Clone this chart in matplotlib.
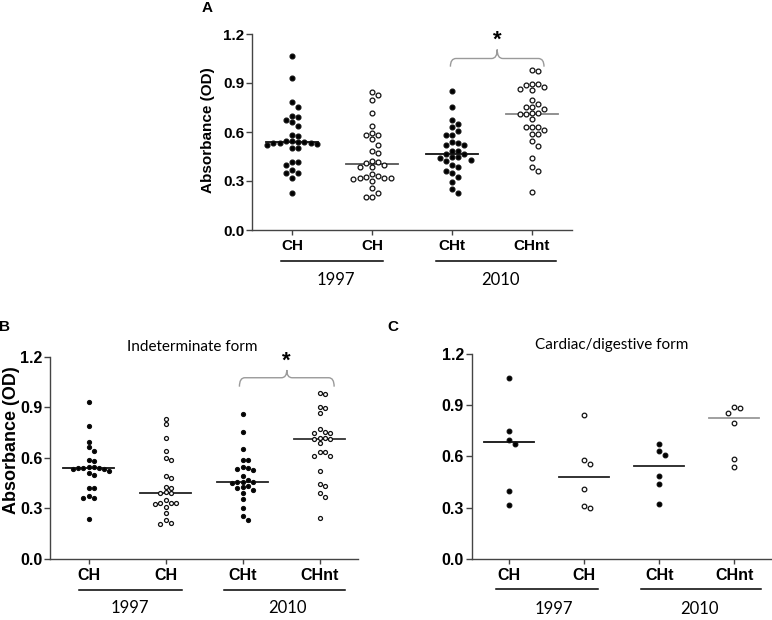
import numpy as np
import matplotlib
matplotlib.use("Agg")
import matplotlib.pyplot as plt
from matplotlib.path import Path
from matplotlib.patches import PathPatch
from matplotlib.transforms import blended_transform_factory

plt.rcParams["font.family"] = ["Liberation Sans", "DejaVu Sans"]

GROUPS = ["CH", "CH", "CHt", "CHnt"]
FILLED = [True, False, True, False]
YEARS = ["1997", "2010"]
YTICKS = [0.0, 0.3, 0.6, 0.9, 1.2]

# panel A - all patients
A_CH97 = [1.066, 0.929, 0.786, 0.751, 0.700, 0.690, 0.673, 0.659, 0.637, 0.582, 0.576, 0.545, 0.545, 0.540, 0.537,
          0.535, 0.535, 0.530, 0.525, 0.520, 0.505, 0.500, 0.418, 0.418, 0.398, 0.367, 0.351, 0.351, 0.320, 0.228]
A_CH97_open = [0.847, 0.827, 0.796, 0.714, 0.639, 0.596, 0.582, 0.582, 0.555, 0.520, 0.486, 0.474, 0.425, 0.418, 0.408,
               0.398, 0.388, 0.384, 0.341, 0.330, 0.326, 0.320, 0.316, 0.316, 0.310, 0.300, 0.259, 0.225, 0.204, 0.204]
A_CHt = [0.853, 0.751, 0.673, 0.647, 0.633, 0.608, 0.582, 0.582, 0.541, 0.535, 0.520, 0.520, 0.486, 0.486, 0.463,
         0.463, 0.449, 0.449, 0.439, 0.429, 0.424, 0.398, 0.388, 0.363, 0.351, 0.323, 0.292, 0.251, 0.225]
A_CHnt = [0.980, 0.976, 0.894, 0.894, 0.888, 0.878, 0.862, 0.857, 0.796, 0.770, 0.755, 0.751, 0.739, 0.718, 0.714,
          0.710, 0.708, 0.680, 0.633, 0.633, 0.633, 0.612, 0.588, 0.588, 0.545, 0.514, 0.439, 0.388, 0.361, 0.235]

# panel B - indeterminate form
B_CH97 = [0.929, 0.790, 0.695, 0.662, 0.642, 0.586, 0.580, 0.545, 0.542, 0.540, 0.537, 0.537, 0.535, 0.535, 0.523,
          0.507, 0.497, 0.422, 0.422, 0.372, 0.359, 0.359, 0.236]
B_CH97_open = [0.828, 0.798, 0.719, 0.642, 0.596, 0.586, 0.491, 0.478, 0.428, 0.422, 0.398, 0.390, 0.388, 0.349,
               0.333, 0.333, 0.329, 0.325, 0.309, 0.270, 0.230, 0.210, 0.204]
B_CHt = [0.858, 0.755, 0.650, 0.586, 0.586, 0.543, 0.537, 0.531, 0.527, 0.493, 0.470, 0.458, 0.458, 0.455, 0.452,
         0.432, 0.424, 0.420, 0.408, 0.392, 0.355, 0.299, 0.256, 0.230]
B_CHnt = [0.983, 0.977, 0.899, 0.897, 0.864, 0.771, 0.751, 0.748, 0.745, 0.719, 0.715, 0.709, 0.709, 0.686, 0.636,
          0.632, 0.610, 0.610, 0.521, 0.444, 0.434, 0.388, 0.365, 0.244]

# panel C - cardiac/digestive form
C_CH97 = [1.062, 0.747, 0.697, 0.675, 0.397, 0.317]
C_CH97_open = [0.842, 0.581, 0.555, 0.408, 0.308, 0.298]
C_CHt = [0.675, 0.629, 0.608, 0.482, 0.439, 0.319]
C_CHnt = [0.890, 0.883, 0.857, 0.794, 0.586, 0.538]


def swarm(ax, x0, values, step_px, gap_px):
    """discrete-column beeswarm: offsets in data units computed from pixel spacing"""
    to_px = ax.transData.transform
    x_unit = to_px((1, 0))[0] - to_px((0, 0))[0]
    ypx = np.array([to_px((x0, v))[1] for v in values])
    order = np.argsort(-ypx)
    cols = np.zeros(len(values))
    placed = []
    for i in order:
        for k in [0, 1, -1, 2, -2, 3, -3, 4, -4]:
            if all(not (c == k and abs(y - ypx[i]) < gap_px) for c, y in placed):
                cols[i] = k
                placed.append((k, ypx[i]))
                break
    return x0 + cols * step_px / x_unit


def bracket(ax, x0, x1, y, drop, rise, rx):
    xc = (x0 + x1) / 2
    verts = [(x0, y - drop), (x0, y), (x0 + rx, y), (xc - rx, y), (xc, y), (xc, y + rise),
             (xc, y), (xc + rx, y), (x1 - rx, y), (x1, y), (x1, y - drop)]
    codes = [Path.MOVETO, Path.CURVE3, Path.CURVE3, Path.LINETO, Path.CURVE3, Path.CURVE3,
             Path.CURVE3, Path.CURVE3, Path.LINETO, Path.CURVE3, Path.CURVE3]
    ax.add_patch(PathPatch(Path(verts, codes), fill=False, edgecolor="#9a9a9a", lw=1.0, clip_on=False))


def panel(ax, data, med_colors, msize, fs, spans, text_x, line_y, text_y):
    ax.set_xlim(-0.5, 3.5)
    ax.set_ylim(0, 1.2)
    for s in ["top", "right"]:
        ax.spines[s].set_visible(False)
    for s in ["left", "bottom"]:
        ax.spines[s].set_color("#444444")
        ax.spines[s].set_linewidth(1.0)
    ax.set_yticks(YTICKS)
    ax.set_yticklabels([f"{t:.1f}" for t in YTICKS], fontsize=fs, fontweight="bold")
    ax.set_xticks(range(len(GROUPS)))
    ax.set_xticklabels(GROUPS, fontsize=fs, fontweight="bold")
    ax.tick_params(axis="y", length=4, width=1, color="#444444", pad=1.5)
    ax.tick_params(axis="x", length=3.5, width=1, color="#444444", pad=3)

    for i, (vals, filled) in enumerate(zip(data, FILLED)):
        xs = swarm(ax, i, vals, msize * 1.35, msize * 1.3)
        ax.scatter(xs, vals, s=(msize / 1.389) ** 2 * 1.1, marker="o",
                   facecolors="black" if filled else "white", edgecolors="#111111",
                   linewidths=0.9, zorder=3, clip_on=False)
        ax.plot([i - 0.33, i + 0.33], [np.median(vals)] * 2, color=med_colors[i], lw=1.3, zorder=2)

    trans = blended_transform_factory(ax.transData, ax.transAxes)
    for (a, b), tx, yr in zip(spans, text_x, YEARS):
        ax.plot([a, b], [line_y, line_y], color="black", lw=1.1, transform=trans, clip_on=False)
        ax.text(tx, text_y, yr, transform=trans, ha="center", va="center",
                fontsize=12, family=["Lato", "DejaVu Sans"])


fig = plt.figure(figsize=(7.72, 6.2), dpi=100)

axA = fig.add_axes([252 / 772, 1 - 230 / 620, 320 / 772, 196 / 620])
axB = fig.add_axes([50 / 772, 1 - 558.7 / 620, 308 / 772, 202 / 620])
axC = fig.add_axes([471.7 / 772, 1 - 558.7 / 620, 300 / 772, 204.7 / 620])

panel(axA, [A_CH97, A_CH97_open, A_CHt, A_CHnt], ["#111111", "#555555", "#111111", "#888888"], 4.6, 11,
      [(-0.14, 1.14), (1.8, 3.3)], [0.55, 2.6], -0.158, -0.255)
panel(axB, [B_CH97, B_CH97_open, B_CHt, B_CHnt], ["#111111", "#222222", "#222222", "#333333"], 3.8, 11.5,
      [(-0.12, 1.21), (1.76, 3.33)], [0.54, 2.58], -0.155, -0.245)
panel(axC, [C_CH97, C_CH97_open, C_CHt, C_CHnt], ["#111111", "#222222", "#222222", "#999999"], 4.4, 11.5,
      [(-0.18, 1.19), (1.76, 3.36)], [0.59, 2.53], -0.15, -0.245)

axA.set_ylabel("Absorbance (OD)", fontsize=11, fontweight="bold", va="center")
axA.yaxis.set_label_coords(-0.1375, 0.508)
axB.set_ylabel("Absorbance (OD)", fontsize=13, fontweight="bold", va="center")
axB.yaxis.set_label_coords(-0.124, 0.588)

bracket(axA, 1.98, 3.15, 1.05, 0.05, 0.055, 0.07)
axA.text(2.565, 1.16, "*", ha="center", va="center", fontsize=16, fontweight="bold")
bracket(axB, 1.96, 3.19, 1.075, 0.053, 0.046, 0.07)
axB.text(2.575, 1.175, "*", ha="center", va="center", fontsize=16, fontweight="bold")

fig.text(192 / 772, 1 - 347 / 620, "Indeterminate form", ha="center", va="center",
         fontsize=11, family=["Lato", "DejaVu Sans"])
fig.text(612 / 772, 1 - 345 / 620, "Cardiac/digestive form", ha="center", va="center",
         fontsize=11, family=["Lato", "DejaVu Sans"])

fig.text(207 / 772, 1 - 8 / 620, "A", ha="center", va="center", fontsize=11, fontweight="bold")
fig.text(4 / 772, 1 - 327 / 620, "B", ha="center", va="center", fontsize=11, fontweight="bold")
fig.text(393 / 772, 1 - 327 / 620, "C", ha="center", va="center", fontsize=11, fontweight="bold")

fig.savefig("out.png", dpi=100)
